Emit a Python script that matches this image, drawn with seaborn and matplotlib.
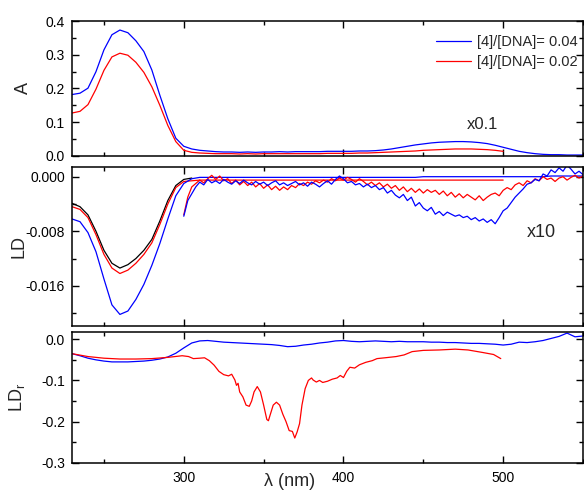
import numpy as np
import matplotlib
matplotlib.use("Agg")
import matplotlib.pyplot as plt
import seaborn as sns
from matplotlib.ticker import MultipleLocator, FixedLocator, FormatStrFormatter
from matplotlib.lines import Line2D

#####################################################################################################################
# Data
#####################################################################################################################
# absorbance, 5 nm grid
wl_a_blue = np.arange(230, 551, 5)
a_blue = [0.182, 0.186, 0.201, 0.250, 0.315, 0.360, 0.374, 0.366, 0.342, 0.310,
          0.255, 0.180, 0.110, 0.052, 0.028, 0.020, 0.016, 0.014, 0.012, 0.011,
          0.011, 0.010, 0.011, 0.010, 0.011, 0.011, 0.012, 0.011, 0.012, 0.012,
          0.012, 0.012, 0.013, 0.013, 0.013, 0.013, 0.014, 0.014, 0.015, 0.017,
          0.020, 0.024, 0.028, 0.032, 0.035, 0.038, 0.040, 0.041, 0.042, 0.042,
          0.041, 0.039, 0.036, 0.031, 0.025, 0.019, 0.013, 0.009, 0.006, 0.004,
          0.003, 0.003, 0.002, 0.002, 0.002]
wl_a_red = np.arange(230, 501, 5)
a_red = [0.127, 0.132, 0.152, 0.198, 0.254, 0.294, 0.305, 0.299, 0.278, 0.248,
         0.205, 0.150, 0.090, 0.042, 0.016, 0.010, 0.008, 0.007, 0.006, 0.006,
         0.006, 0.005, 0.006, 0.005, 0.006, 0.006, 0.006, 0.006, 0.006, 0.006,
         0.006, 0.006, 0.007, 0.007, 0.007, 0.007, 0.008, 0.008, 0.009, 0.010,
         0.011, 0.012, 0.013, 0.014, 0.016, 0.017, 0.018, 0.019, 0.020, 0.020,
         0.020, 0.019, 0.018, 0.016, 0.013]

# LD, smooth curves, 5 nm grid
wl_ld_black = np.arange(230, 306, 5)
ld_black = [-0.0039, -0.0044, -0.0056, -0.0080, -0.0108, -0.0127, -0.0134, -0.0129, -0.0120, -0.0108,
            -0.0092, -0.0065, -0.0035, -0.0013, -0.0004, -0.0002]
wl_ld_red = np.arange(230, 501, 5)
ld_red = [-0.0044, -0.0048, -0.0060, -0.0085, -0.0114, -0.0134, -0.0142, -0.0137, -0.0127, -0.0114,
          -0.0097, -0.0070, -0.0040, -0.0016, -0.0007, -0.0006, -0.0005, -0.0005, -0.0005, -0.0005,
          -0.0005, -0.0005, -0.0005, -0.0005, -0.0005, -0.0005, -0.0005, -0.0005, -0.0005, -0.0005,
          -0.0005, -0.0005, -0.0005, -0.0005, -0.0005, -0.0005, -0.0005, -0.0005, -0.0005, -0.0005,
          -0.0005, -0.0005, -0.0005, -0.0005, -0.0005, -0.0005, -0.0005, -0.0005, -0.0005, -0.0005,
          -0.0005, -0.0005, -0.0005, -0.0005, -0.0005]
wl_ld_blue = np.arange(230, 551, 5)
ld_blue = [-0.0062, -0.0066, -0.0082, -0.0110, -0.0150, -0.0188, -0.0202, -0.0197, -0.0180, -0.0158,
           -0.0130, -0.0098, -0.0062, -0.0028, -0.0010, -0.0003, -0.0001, -0.0001, -0.0001, -0.0001,
           -0.0001, -0.0001, -0.0001, -0.0001, -0.0001, -0.0001, -0.0001, -0.0001, -0.0001, -0.0001,
           -0.0001, -0.0001, -0.0001, -0.0001, -0.0001, -0.0001, -0.0001, -0.0001, -0.0001, -0.0001,
           -0.0001, -0.0001, -0.0001, -0.0001, 0.0000, 0.0000, 0.0000, 0.0000, 0.0000, 0.0000,
           0.0000, 0.0000, 0.0000, 0.0000, 0.0000, 0.0000, 0.0000, 0.0000, 0.0000, 0.0000,
           0.0001, 0.0001, 0.0001, 0.0001, 0.0001]

# LD x10 (visible region), 2.5 nm grid
wl_ld10 = np.arange(300, 550.1, 2.5)
ld10_blue = [-0.0058, -0.0035, -0.0025, -0.0015, -0.0008, -0.0012, -0.0004, -0.0009, -0.0006, -0.0010,
             -0.0004, -0.0008, -0.0011, -0.0006, -0.0010, -0.0005, -0.0009, -0.0012, -0.0007, -0.0011,
             -0.0008, -0.0013, -0.0009, -0.0006, -0.0012, -0.0009, -0.0013, -0.0010, -0.0007, -0.0012,
             -0.0009, -0.0014, -0.0008, -0.0011, -0.0015, -0.0010, -0.0006, -0.0011, -0.0004, 0.0001,
             -0.0003, -0.0009, -0.0007, -0.0012, -0.0010, -0.0015, -0.0011, -0.0016, -0.0013, -0.0019,
             -0.0016, -0.0024, -0.0020, -0.0027, -0.0031, -0.0026, -0.0035, -0.0030, -0.0043, -0.0038,
             -0.0046, -0.0050, -0.0045, -0.0055, -0.0051, -0.0057, -0.0052, -0.0055, -0.0058, -0.0056,
             -0.0060, -0.0058, -0.0063, -0.0060, -0.0065, -0.0062, -0.0067, -0.0063, -0.0069, -0.0060,
             -0.0050, -0.0046, -0.0038, -0.0030, -0.0024, -0.0018, -0.0011, -0.0009, -0.0004, -0.0006,
             0.0004, 0.0001, 0.0010, 0.0006, 0.0013, 0.0008, 0.0017, 0.0011, 0.0004, 0.0008,
             0.0003]
ld10_red = [-0.0056, -0.0030, -0.0015, -0.0010, -0.0005, -0.0009, -0.0003, 0.0002, -0.0004, 0.0001,
            -0.0006, -0.0003, -0.0010, -0.0005, -0.0012, -0.0007, -0.0013, -0.0008, -0.0015, -0.0010,
            -0.0017, -0.0012, -0.0019, -0.0014, -0.0020, -0.0015, -0.0019, -0.0013, -0.0016, -0.0010,
            -0.0013, -0.0008, -0.0011, -0.0006, -0.0009, -0.0005, -0.0008, -0.0003, -0.0006, -0.0002,
            -0.0005, -0.0001, -0.0004, -0.0008, -0.0003, -0.0007, -0.0012, -0.0008, -0.0013, -0.0009,
            -0.0015, -0.0011, -0.0017, -0.0013, -0.0020, -0.0015, -0.0022, -0.0017, -0.0023, -0.0018,
            -0.0024, -0.0019, -0.0023, -0.0020, -0.0026, -0.0021, -0.0028, -0.0023, -0.0030, -0.0025,
            -0.0031, -0.0026, -0.0030, -0.0034, -0.0028, -0.0035, -0.0030, -0.0026, -0.0024, -0.0028,
            -0.0020, -0.0016, -0.0019, -0.0012, -0.0009, -0.0013, -0.0006, -0.0009, -0.0003, -0.0006,
            0.0000, -0.0004, -0.0002, -0.0007, -0.0002, 0.0000, -0.0005, -0.0001, 0.0002, -0.0002,
            0.0001]

# reduced LD
wl_ldr_blue = np.arange(230, 551, 5)
ldr_blue = [-0.035, -0.040, -0.046, -0.050, -0.053, -0.055, -0.055, -0.055, -0.054, -0.053,
            -0.051, -0.048, -0.043, -0.034, -0.021, -0.009, -0.004, -0.003, -0.005, -0.007,
            -0.008, -0.009, -0.010, -0.011, -0.012, -0.013, -0.015, -0.018, -0.017, -0.014,
            -0.012, -0.009, -0.007, -0.004, -0.003, -0.005, -0.006, -0.005, -0.004, -0.005,
            -0.006, -0.005, -0.006, -0.006, -0.006, -0.007, -0.007, -0.008, -0.008, -0.009,
            -0.010, -0.010, -0.011, -0.012, -0.014, -0.012, -0.007, -0.008, -0.006, -0.003,
            0.002, 0.007, 0.015, 0.006, 0.008]
wl_ldr_red = [230, 240, 250, 260, 270, 280, 290, 299, 303, 306, 310, 313, 316, 319, 322, 325, 328, 330,
              332, 333, 334, 335, 337, 339, 341, 342.5, 344, 346, 348, 350, 352, 353, 354, 356, 358, 360,
              362, 364, 366, 368, 369.5, 371, 372.5, 374, 376, 378, 380, 381, 383, 385, 387, 390, 393,
              396, 398, 400, 402, 404, 407, 410, 414, 418, 421, 426, 433, 438, 443, 450, 460, 470, 478,
              487, 494, 498.5]
ldr_red = [-0.035, -0.042, -0.046, -0.048, -0.048, -0.047, -0.044, -0.040, -0.042, -0.047, -0.046, -0.045,
           -0.052, -0.063, -0.078, -0.086, -0.089, -0.085, -0.099, -0.112, -0.107, -0.128, -0.140, -0.160,
           -0.163, -0.150, -0.128, -0.115, -0.128, -0.160, -0.195, -0.198, -0.185, -0.160, -0.153, -0.160,
           -0.182, -0.200, -0.222, -0.224, -0.240, -0.225, -0.205, -0.160, -0.120, -0.100, -0.094, -0.099,
           -0.104, -0.100, -0.105, -0.102, -0.097, -0.094, -0.088, -0.093, -0.078, -0.068, -0.070, -0.062,
           -0.056, -0.052, -0.047, -0.045, -0.042, -0.038, -0.030, -0.027, -0.026, -0.024, -0.026, -0.032,
           -0.037, -0.047]

legend_labels = ['[4]/[DNA]= 0.04', '[4]/[DNA]= 0.02']
BLUE, RED, BLACK = '#0000ff', '#ff0000', '#000000'


#####################################################################################################################
# Plot helpers
#####################################################################################################################
def draw(ax, x, y, color, lw=0.9):
    sns.lineplot(x=np.asarray(x, dtype=float), y=np.asarray(y, dtype=float), ax=ax, color=color,
                 lw=lw, sort=False, estimator=None, legend=False)


def style_axis(ax, ylim, yticks, yminor, fmt, ylabel, label_x=-0.088, labelbottom=False):
    ax.set_xlim(230, 550)
    ax.set_ylim(*ylim)
    ax.xaxis.set_major_locator(MultipleLocator(100))
    ax.xaxis.set_minor_locator(MultipleLocator(50))
    ax.yaxis.set_major_locator(FixedLocator(yticks))
    ax.yaxis.set_minor_locator(MultipleLocator(yminor))
    ax.yaxis.set_major_formatter(FormatStrFormatter(fmt))
    ax.tick_params(which='both', direction='in', top=True, right=True, width=1.0,
                   labelsize=10, colors='#000000', labelbottom=labelbottom)
    ax.tick_params(axis='y', which='major', length=5, pad=5)
    ax.tick_params(axis='x', which='major', length=5, pad=6)
    ax.tick_params(which='minor', length=2.8)
    for sp in ax.spines.values():
        sp.set_linewidth(1.1)
        sp.set_color('#000000')
    ax.set_xlabel('')
    ax.set_ylabel(ylabel, fontsize=13)
    ax.yaxis.set_label_coords(label_x, 0.5)


sns.set_style("ticks")
plt.rcParams['font.family'] = ['Liberation Sans', 'DejaVu Sans']
plt.rcParams['mathtext.default'] = 'regular'

fig = plt.figure(figsize=(5.84, 4.93), dpi=100)
ax1 = fig.add_axes([0.1233, 0.6842, 0.875, 0.2726])
ax2 = fig.add_axes([0.1233, 0.3387, 0.875, 0.3231])
ax3 = fig.add_axes([0.1233, 0.0615, 0.875, 0.2645])

# absorbance
draw(ax1, wl_a_blue, a_blue, BLUE)
draw(ax1, wl_a_red, a_red, RED)
style_axis(ax1, (0, 0.4), [0.0, 0.1, 0.2, 0.3, 0.4], 0.05, '%.1f', 'A', label_x=-0.078)
handles = [Line2D([], [], color=BLUE, lw=0.9), Line2D([], [], color=RED, lw=0.9)]
ax1.legend(handles, legend_labels, loc='upper right', bbox_to_anchor=(0.99, 0.90), frameon=False,
           fontsize=10.5, handlelength=2.4, handletextpad=0.4, labelspacing=0.45,
           borderaxespad=0, borderpad=0)
ax1.text(486.8, 0.094, 'x0.1', fontsize=12, ha='center', va='center')

# linear dichroism
draw(ax2, wl_ld_black, ld_black, BLACK)
draw(ax2, wl_ld_red, ld_red, RED)
draw(ax2, wl_ld_blue, ld_blue, BLUE)
draw(ax2, wl_ld10, ld10_red, RED)
draw(ax2, wl_ld10, ld10_blue, BLUE)
style_axis(ax2, (-0.0219, 0.00146), [0.0, -0.008, -0.016], 0.004, '%.3f', 'LD')
ax2.text(524, -0.0082, 'x10', fontsize=13, ha='center', va='center')

# reduced LD
draw(ax3, wl_ldr_blue, ldr_blue, BLUE)
draw(ax3, wl_ldr_red, ldr_red, RED)
style_axis(ax3, (-0.3, 0.017), [0.0, -0.1, -0.2, -0.3], 0.05, '%.1f', 'LD$_r$', labelbottom=True)
ax3.xaxis.set_major_formatter(FormatStrFormatter('%d'))
ax3.set_xlabel('λ (nm)', fontsize=13)
ax3.xaxis.set_label_coords(0.425, -0.08)

fig.savefig('out.png', dpi=100)
